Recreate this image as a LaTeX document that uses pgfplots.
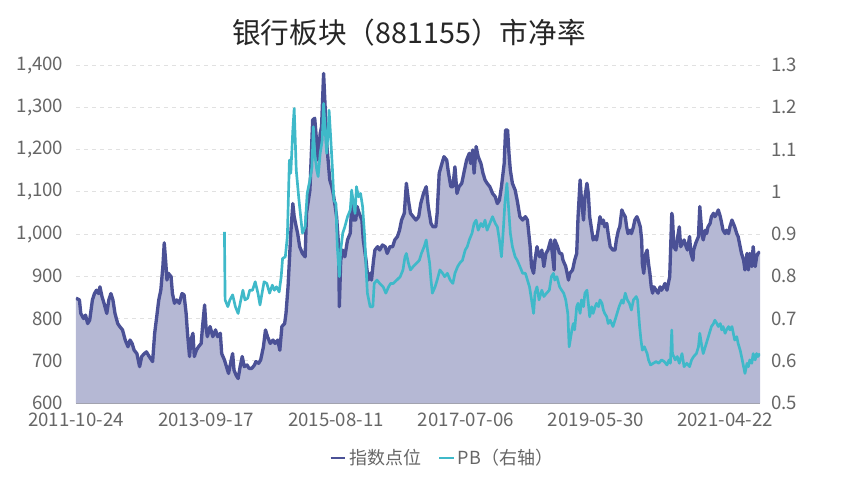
\documentclass[border=0pt]{standalone}
\usepackage{fontspec}
\setmainfont{Noto Sans CJK SC}
\usepackage{pgfplots}
\usepackage{pgfplotstable}
\pgfplotsset{compat=1.18}

\definecolor{indexline}{RGB}{75,81,150}
\definecolor{areafill}{RGB}{181,184,212}
\definecolor{pbline}{RGB}{63,185,201}
\definecolor{gridgray}{RGB}{225,225,225}
\definecolor{textgray}{RGB}{102,102,102}
\definecolor{axisgray}{RGB}{160,160,170}

% index level (left axis), x = decimal year
\pgfplotstableread{
x y
2011.81 848
2011.86 844
2011.88 812
2011.92 800
2011.95 808
2011.98 788
2012.01 796
2012.05 844
2012.08 859
2012.11 867
2012.14 859
2012.16 875
2012.19 852
2012.22 836
2012.26 812
2012.29 844
2012.32 859
2012.35 844
2012.38 812
2012.42 788
2012.45 781
2012.49 773
2012.53 749
2012.57 733
2012.60 749
2012.63 741
2012.66 725
2012.70 717
2012.74 686
2012.77 710
2012.81 717
2012.84 721
2012.88 710
2012.93 698
2012.96 765
2012.99 804
2013.02 844
2013.05 867
2013.08 923
2013.10 979
2013.12 938
2013.14 891
2013.16 907
2013.20 899
2013.22 859
2013.25 836
2013.28 844
2013.32 836
2013.36 859
2013.39 856
2013.42 812
2013.44 765
2013.47 710
2013.49 749
2013.52 765
2013.54 710
2013.57 725
2013.60 733
2013.64 741
2013.66 781
2013.69 832
2013.71 781
2013.73 757
2013.77 781
2013.81 757
2013.85 773
2013.88 757
2013.92 765
2013.94 717
2013.98 702
2014.01 686
2014.04 670
2014.08 702
2014.10 717
2014.12 678
2014.15 666
2014.18 658
2014.21 686
2014.24 710
2014.27 686
2014.31 690
2014.34 682
2014.38 682
2014.42 690
2014.44 698
2014.48 694
2014.51 702
2014.55 733
2014.58 773
2014.61 757
2014.65 741
2014.69 749
2014.72 741
2014.76 749
2014.79 725
2014.82 781
2014.86 788
2014.88 812
2014.91 875
2014.93 938
2014.95 1002
2014.98 1072
2015.00 1041
2015.03 1017
2015.05 1002
2015.08 970
2015.12 954
2015.16 946
2015.18 1049
2015.23 1104
2015.27 1270
2015.30 1274
2015.33 1215
2015.35 1175
2015.38 1238
2015.40 1254
2015.43 1380
2015.45 1309
2015.475 1215
2015.50 1167
2015.52 1128
2015.55 1112
2015.57 1096
2015.60 1065
2015.62 1041
2015.65 970
2015.66 828
2015.68 938
2015.71 962
2015.74 946
2015.78 986
2015.82 1002
2015.84 1072
2015.86 1033
2015.90 1033
2015.92 1065
2015.95 1049
2015.99 1033
2016.01 986
2016.05 938
2016.08 891
2016.11 907
2016.13 891
2016.16 938
2016.18 962
2016.22 970
2016.25 962
2016.29 974
2016.33 970
2016.36 954
2016.40 970
2016.44 970
2016.47 986
2016.51 994
2016.54 1009
2016.57 1033
2016.61 1049
2016.64 1120
2016.67 1080
2016.70 1049
2016.74 1041
2016.78 1033
2016.82 1041
2016.85 1072
2016.89 1096
2016.93 1112
2016.96 1065
2017.00 1025
2017.03 1017
2017.07 1017
2017.09 1049
2017.12 1144
2017.16 1167
2017.19 1183
2017.23 1175
2017.25 1151
2017.29 1112
2017.32 1112
2017.35 1159
2017.38 1096
2017.41 1112
2017.45 1120
2017.48 1144
2017.52 1175
2017.56 1191
2017.58 1167
2017.61 1199
2017.63 1144
2017.66 1207
2017.69 1183
2017.73 1167
2017.76 1144
2017.79 1128
2017.82 1120
2017.86 1112
2017.90 1096
2017.94 1088
2017.97 1072
2018.00 1080
2018.03 1112
2018.07 1167
2018.09 1246
2018.12 1246
2018.14 1191
2018.16 1151
2018.19 1120
2018.23 1104
2018.26 1080
2018.30 1041
2018.34 1033
2018.38 1041
2018.41 1033
2018.45 970
2018.47 923
2018.50 907
2018.52 938
2018.55 970
2018.57 954
2018.59 946
2018.62 962
2018.65 923
2018.68 954
2018.71 962
2018.75 986
2018.78 946
2018.80 915
2018.81 986
2018.85 970
2018.88 954
2018.91 954
2018.93 938
2018.97 923
2019.01 891
2019.03 907
2019.07 915
2019.10 938
2019.13 954
2019.15 1041
2019.18 1128
2019.20 1080
2019.23 1033
2019.25 1088
2019.28 1120
2019.30 1096
2019.32 1041
2019.35 1009
2019.37 986
2019.40 994
2019.42 986
2019.45 1017
2019.47 1041
2019.50 1025
2019.52 1033
2019.54 1017
2019.57 1025
2019.59 1001
2019.62 970
2019.66 962
2019.69 962
2019.71 986
2019.74 1009
2019.76 1017
2019.79 1057
2019.81 1049
2019.84 1041
2019.86 1017
2019.88 1001
2019.91 1009
2019.93 1001
2019.96 1017
2019.98 1033
2020.01 1041
2020.03 1033
2020.06 1017
2020.08 986
2020.09 930
2020.11 907
2020.14 954
2020.16 962
2020.18 930
2020.20 907
2020.22 875
2020.24 860
2020.26 875
2020.29 867
2020.32 860
2020.35 875
2020.37 867
2020.40 875
2020.42 883
2020.45 867
2020.47 883
2020.49 899
2020.52 1049
2020.53 1041
2020.55 970
2020.58 962
2020.60 986
2020.63 1017
2020.65 970
2020.68 978
2020.70 986
2020.73 970
2020.75 962
2020.78 994
2020.80 954
2020.83 938
2020.84 962
2020.87 978
2020.91 994
2020.93 1065
2020.96 1001
2020.98 986
2021.01 1009
2021.03 1001
2021.05 1017
2021.08 1025
2021.10 1041
2021.13 1049
2021.15 1041
2021.18 1049
2021.20 1057
2021.23 1041
2021.25 1025
2021.27 1009
2021.30 1001
2021.32 1009
2021.35 1001
2021.37 1017
2021.40 1033
2021.42 1025
2021.44 1017
2021.47 1001
2021.49 994
2021.52 970
2021.54 954
2021.57 938
2021.59 915
2021.62 954
2021.64 915
2021.66 954
2021.69 923
2021.71 970
2021.74 923
2021.76 946
2021.78 954
2021.81 958
}\indexdata

% PB (right axis)
\pgfplotstableread{
x y
2013.98 0.905
2013.99 0.744
2014.03 0.728
2014.06 0.744
2014.10 0.756
2014.14 0.728
2014.18 0.712
2014.21 0.736
2014.25 0.767
2014.28 0.744
2014.32 0.748
2014.35 0.767
2014.39 0.767
2014.43 0.787
2014.47 0.760
2014.50 0.732
2014.53 0.760
2014.56 0.787
2014.60 0.783
2014.64 0.760
2014.68 0.779
2014.71 0.767
2014.74 0.775
2014.78 0.763
2014.81 0.799
2014.83 0.842
2014.87 0.846
2014.90 0.894
2014.93 1.075
2014.95 1.044
2014.98 1.146
2015.00 1.197
2015.03 1.051
2015.07 0.980
2015.10 0.933
2015.12 0.902
2015.16 0.917
2015.19 0.996
2015.23 1.028
2015.26 1.059
2015.28 1.154
2015.30 1.091
2015.33 1.051
2015.35 1.036
2015.38 1.091
2015.41 1.122
2015.43 1.209
2015.45 1.154
2015.475 1.091
2015.50 1.154
2015.51 1.193
2015.53 1.138
2015.56 1.051
2015.58 0.980
2015.61 0.972
2015.63 0.870
2015.66 0.799
2015.68 0.862
2015.71 0.902
2015.74 0.917
2015.78 0.941
2015.82 0.957
2015.84 1.004
2015.86 0.980
2015.89 0.949
2015.91 1.012
2015.94 0.988
2015.97 0.996
2016.00 0.965
2016.03 0.894
2016.05 0.823
2016.07 0.760
2016.11 0.728
2016.15 0.728
2016.17 0.783
2016.21 0.791
2016.25 0.783
2016.30 0.775
2016.34 0.760
2016.38 0.775
2016.41 0.783
2016.45 0.783
2016.50 0.791
2016.55 0.799
2016.59 0.815
2016.62 0.846
2016.64 0.854
2016.67 0.831
2016.70 0.815
2016.74 0.823
2016.79 0.831
2016.83 0.838
2016.86 0.854
2016.90 0.870
2016.93 0.886
2016.95 0.862
2016.98 0.831
2017.00 0.791
2017.02 0.760
2017.06 0.775
2017.09 0.791
2017.13 0.815
2017.17 0.807
2017.20 0.799
2017.24 0.807
2017.28 0.791
2017.32 0.783
2017.35 0.807
2017.39 0.823
2017.42 0.831
2017.46 0.838
2017.50 0.862
2017.53 0.870
2017.56 0.886
2017.60 0.902
2017.63 0.925
2017.66 0.933
2017.69 0.909
2017.73 0.925
2017.76 0.917
2017.79 0.933
2017.82 0.909
2017.86 0.925
2017.90 0.941
2017.94 0.925
2017.97 0.917
2018.00 0.886
2018.03 0.846
2018.06 0.917
2018.08 0.972
2018.11 1.020
2018.13 0.972
2018.16 0.902
2018.19 0.870
2018.23 0.846
2018.26 0.838
2018.30 0.823
2018.34 0.807
2018.38 0.807
2018.41 0.791
2018.44 0.775
2018.47 0.744
2018.50 0.712
2018.52 0.760
2018.55 0.775
2018.58 0.744
2018.62 0.767
2018.65 0.752
2018.69 0.760
2018.73 0.767
2018.76 0.799
2018.79 0.807
2018.81 0.791
2018.84 0.799
2018.88 0.775
2018.91 0.767
2018.94 0.760
2018.97 0.744
2019.00 0.712
2019.02 0.633
2019.06 0.673
2019.08 0.688
2019.10 0.673
2019.13 0.728
2019.15 0.736
2019.18 0.712
2019.20 0.744
2019.23 0.728
2019.25 0.760
2019.28 0.767
2019.30 0.736
2019.32 0.704
2019.35 0.728
2019.37 0.712
2019.40 0.728
2019.42 0.736
2019.45 0.728
2019.47 0.744
2019.50 0.736
2019.52 0.720
2019.54 0.712
2019.57 0.704
2019.59 0.688
2019.62 0.696
2019.66 0.681
2019.69 0.696
2019.72 0.712
2019.75 0.728
2019.79 0.744
2019.81 0.736
2019.84 0.760
2019.87 0.744
2019.90 0.736
2019.93 0.720
2019.96 0.744
2020.00 0.752
2020.02 0.744
2020.05 0.681
2020.07 0.649
2020.09 0.625
2020.12 0.633
2020.14 0.625
2020.16 0.617
2020.18 0.602
2020.21 0.590
2020.25 0.594
2020.29 0.598
2020.33 0.594
2020.37 0.602
2020.41 0.598
2020.45 0.590
2020.48 0.602
2020.50 0.594
2020.52 0.673
2020.53 0.617
2020.57 0.602
2020.60 0.610
2020.63 0.594
2020.67 0.617
2020.70 0.586
2020.74 0.594
2020.78 0.586
2020.81 0.602
2020.84 0.610
2020.88 0.617
2020.91 0.633
2020.93 0.665
2020.96 0.633
2020.98 0.617
2021.01 0.633
2021.04 0.649
2021.07 0.665
2021.10 0.681
2021.13 0.688
2021.15 0.696
2021.18 0.688
2021.20 0.681
2021.23 0.688
2021.25 0.673
2021.27 0.681
2021.30 0.665
2021.32 0.673
2021.35 0.681
2021.37 0.673
2021.40 0.681
2021.42 0.665
2021.44 0.649
2021.47 0.657
2021.49 0.641
2021.52 0.625
2021.54 0.610
2021.57 0.586
2021.59 0.570
2021.62 0.594
2021.64 0.586
2021.66 0.602
2021.69 0.594
2021.71 0.617
2021.74 0.602
2021.76 0.617
2021.78 0.610
2021.81 0.617
}\pbdata

\pgfplotsset{
  common/.style={
    at={(57pt,57.75pt)}, anchor=south west,
    scale only axis, width=513pt, height=253.5pt,
    xmin=2011.81, xmax=2021.81,
    major tick length=0pt,
    tick style={draw=none},
    /pgf/number format/assume math mode=true,
    ticklabel style={font=\fontsize{14}{16}\selectfont, text=textgray},
  },
}

\begin{document}
\begin{tikzpicture}
\path[use as bounding box] (0,0) rectangle (632.25pt,360pt);

\begin{axis}[
    common,
    ymin=600, ymax=1400,
    ytick={600,700,...,1400},
    axis x line*=bottom,
    axis y line*=left,
    y axis line style={draw=none},
    x axis line style={draw=axisgray, line width=1pt, -},
    xtick={2011.81,2013.71,2015.61,2017.51,2019.41,2021.30},
    xticklabels={2011-10-24,2013-09-17,2015-08-11,2017-07-06,2019-05-30,2021-04-22},
    xticklabel style={yshift=-4pt},
    yticklabel style={xshift=-6pt, /pgf/number format/.cd, fixed, 1000 sep={,}},
    ymajorgrids=true,
    grid style={dashed, gridgray, line width=0.6pt},
]
\addplot[fill=areafill, draw=none] table {\indexdata} \closedcycle;
\addplot[indexline, line width=2.5pt, line join=round] table {\indexdata};
\end{axis}

\begin{axis}[
    common,
    ymin=0.5, ymax=1.3,
    ytick={0.5,0.6,...,1.3},
    axis x line=none,
    axis y line*=right,
    y axis line style={draw=none},
    yticklabel style={xshift=5pt, /pgf/number format/.cd, fixed, precision=1},
    legend style={at={(0.536,-0.163)}, anchor=center, draw=none, fill=none,
      font=\fontsize{13.5}{15}\selectfont, text=textgray,
      /tikz/every even column/.append style={column sep=11pt}},
    legend columns=2,
    legend image code/.code={\draw[#1, line width=1.6pt] (-3pt,0pt) -- (8pt,0pt);},
]
\addlegendimage{indexline}
\addlegendentry{指数点位}
\addplot[pbline, line width=2pt, line join=round] table {\pbdata};
\addlegendentry{PB（右轴）}
\end{axis}

\node[font=\fontsize{21.5}{24}\selectfont, text=black!85] at (306.75pt,335.25pt) {银行板块（881155）市净率};
\end{tikzpicture}
\end{document}
